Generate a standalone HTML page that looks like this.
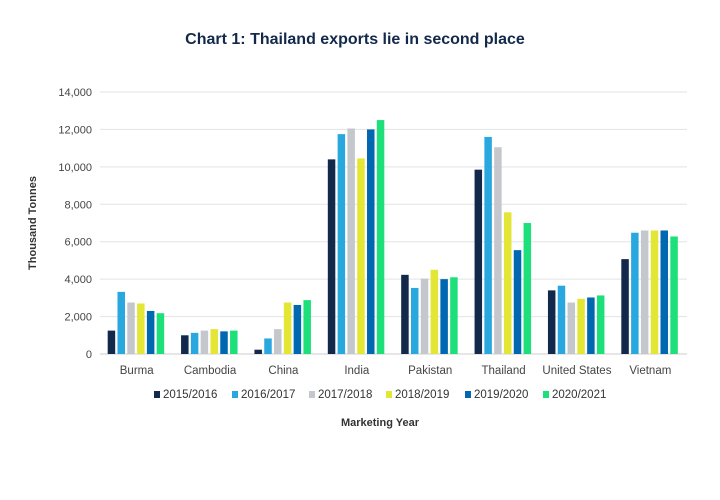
<!DOCTYPE html>
<html><head><meta charset="utf-8"><style>
body{margin:0;background:#fff;font-family:"Liberation Sans",sans-serif}
svg{display:block}
</style></head><body>
<svg id="c" width="720" height="500">
<text x="355" y="44" text-anchor="middle" font-size="16" font-weight="bold" fill="#13294b">Chart 1: Thailand exports lie in second place</text>
<text transform="translate(36,223) rotate(-90)" text-anchor="middle" font-size="11" font-weight="bold" fill="#333">Thousand Tonnes</text>
<text x="380" y="426" text-anchor="middle" font-size="11" font-weight="bold" fill="#333">Marketing Year</text>
<g id="grid"></g><g id="bars"></g><g id="legend"></g>
</svg>
<script>
const categories=["Burma","Cambodia","China","India","Pakistan","Thailand","United States","Vietnam"];
const seriesNames=["2015/2016","2016/2017","2017/2018","2018/2019","2019/2020","2020/2021"];
const s2015=[1250,1000,230,10400,4230,9850,3400,5070];
const s2016=[3320,1130,830,11750,3530,11600,3650,6480];
const s2017=[2750,1250,1330,12050,4030,11050,2750,6600];
const s2018=[2700,1330,2750,10450,4500,7570,2950,6600];
const s2019=[2300,1210,2620,12000,4000,5550,3020,6600];
const s2020=[2180,1250,2880,12500,4100,7000,3130,6280];
const yTicks=[0,2000,4000,6000,8000,10000,12000,14000];
const series=[s2015,s2016,s2017,s2018,s2019,s2020];
const colors=["#13294b","#29a8e0","#c4c8cc","#e4e636","#0067b1","#1ee07a"];
const NS="http://www.w3.org/2000/svg";
const x0=100,x1=687,y0=354,y1=92,yMax=14000;
const y=v=>y0-(v/yMax)*(y0-y1);
const gw=(x1-x0)/categories.length;
const grid=document.getElementById('grid'),bars=document.getElementById('bars'),leg=document.getElementById('legend');
function mk(t,a){const e=document.createElementNS(NS,t);for(const k in a)e.setAttribute(k,a[k]);return e;}
yTicks.forEach(t=>{
 const l=mk('line',{x1:x0,x2:x1,y1:y(t),y2:y(t),stroke:t?'#e3e3e3':'#ccc','stroke-width':1});
 
 
 grid.appendChild(l);
 const tx=mk('text',{x:92,y:y(t)+4,'text-anchor':'end','font-size':11,fill:'#444'});
 tx.textContent=t.toLocaleString('en-US');
 
 
 grid.appendChild(tx);
});
categories.forEach((c,i)=>{
 const cx=x0+gw*(i+0.5);
 series.forEach((s,j)=>{
  const bx=cx-29+j*9.8;
  const r=mk('rect',{x:bx,y:y(s[i]),width:7.5,height:y0-y(s[i]),fill:colors[j]});
  
  
  bars.appendChild(r);
 });
 const t=mk('text',{x:cx,y:374,'text-anchor':'middle','font-size':11.5,fill:'#444'});
 t.textContent=c;
 
 
 bars.appendChild(t);
});
const lx=[154,232,309,386,465,543];
seriesNames.forEach((n,j)=>{
 const g=mk('g',{});
 
 
 g.appendChild(mk('rect',{x:lx[j],y:391,width:6,height:7,fill:colors[j]}));
 const t=mk('text',{x:lx[j]+9,y:398,'font-size':11.5,fill:'#333'});
 t.textContent=n;
 g.appendChild(t);
 leg.appendChild(g);
});
</script>
</body></html>
